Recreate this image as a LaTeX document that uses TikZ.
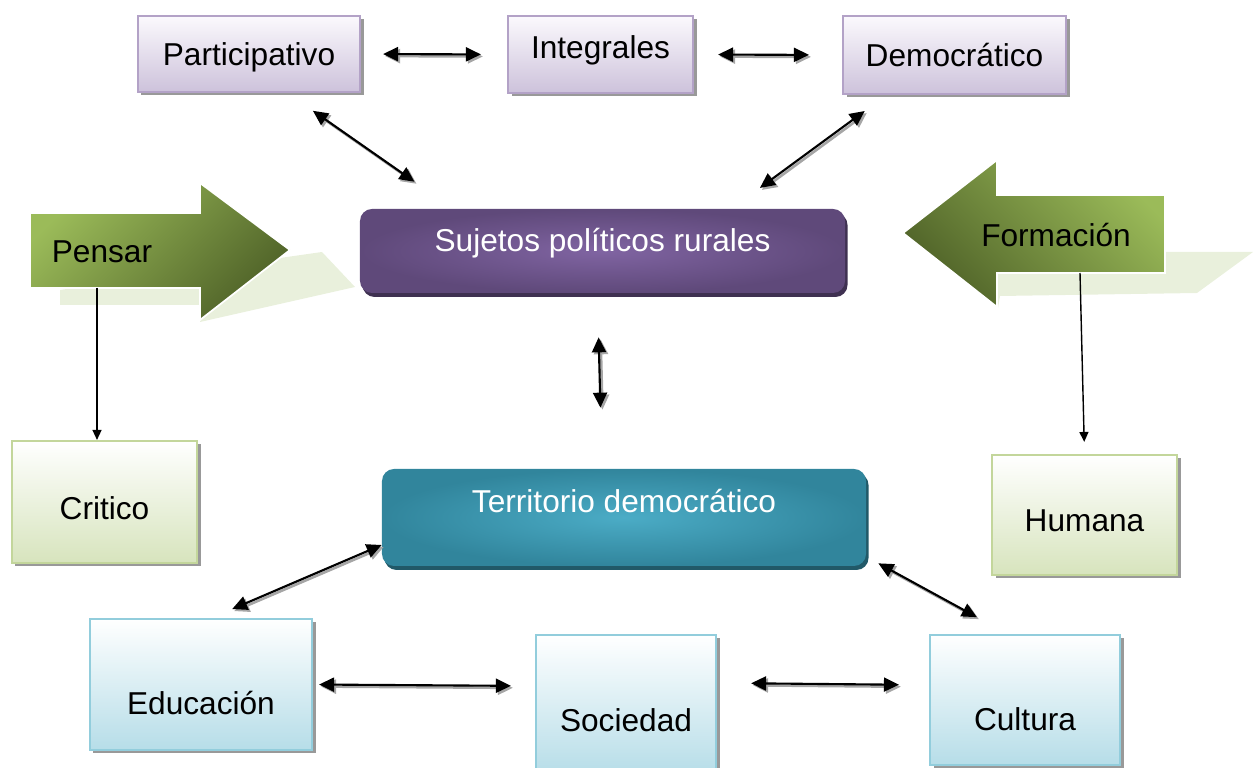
\documentclass[tikz,border=0pt]{standalone}
\usepackage{fontspec}
\setmainfont{Liberation Sans}
\usepackage{tikz}
\usetikzlibrary{arrows.meta,positioning,calc,shadows}
\definecolor{lilaline}{HTML}{B3A2C7}
\definecolor{lilatop}{HTML}{FBF9FD}
\definecolor{lilabot}{HTML}{CDC2DB}
\definecolor{verdeline}{HTML}{C3D69B}
\definecolor{verdebot}{HTML}{D7E4BD}
\definecolor{azulline}{HTML}{92CDDC}
\definecolor{azulbot}{HTML}{B6DDE8}
\definecolor{moradoin}{HTML}{8064A2}
\definecolor{moradoout}{HTML}{5F497A}
\definecolor{moradosh}{HTML}{3F3151}
\definecolor{tealin}{HTML}{4BACC6}
\definecolor{tealout}{HTML}{31859C}
\definecolor{tealsh}{HTML}{215968}
\definecolor{hojaclara}{HTML}{9BBB59}
\definecolor{hojaoscura}{HTML}{4F6228}
\definecolor{hojasombra}{HTML}{E9F0DC}

\begin{document}
\begin{tikzpicture}[x=0.2mm,y=-0.2mm,font=\fontsize{18}{21}\selectfont]
      \tikzstyle{caja}=[rectangle,line width=1.2pt,text height=17.5pt,text depth=4pt,
        drop shadow={shadow xshift=0.7mm,shadow yshift=-0.7mm,fill=black!40,opacity=1}]
      \tikzstyle{lila}=[caja,draw=lilaline,top color=lilatop,bottom color=lilabot]
      \tikzstyle{verde}=[caja,draw=verdeline,top color=white,bottom color=verdebot]
      \tikzstyle{azul}=[caja,draw=azulline,top color=white,bottom color=azulbot]
      \tikzstyle{centro}=[rectangle,rounded corners=2.4mm,text=white,text height=17.5pt]
      \tikzstyle{flecha}=[draw=white,line width=1pt,top color=hojaclara,bottom color=hojaoscura]
      \tikzstyle{enlace}=[{Triangle[length=3mm,width=2.8mm]}-{Triangle[length=3mm,width=2.8mm]},line width=1.2pt,
        preaction={draw=black!35,line width=1.5pt,transform canvas={xshift=0.4mm,yshift=-0.4mm}}]
      \tikzstyle{baja}=[-{Triangle[length=2mm,width=1.8mm]},line width=0.8pt]
      \useasboundingbox (0,0) rectangle (1254,768);

      % flechas verdes
      \fill[hojasombra] (60,305) -- (60,290) -- (280,258) -- (322,252) -- (355,287) -- (200,322) -- (200,305) -- cycle;
      \fill[hojasombra] (998,308) -- (1000,296) -- (1197,293) -- (1253,252) -- (1165,252) -- (1165,273) -- (998,273) -- cycle;
      \draw[flecha,shading angle=45] (30,213) -- (200,213) -- (200,183) -- (290,250) -- (200,320) -- (200,288) -- (30,288) -- cycle;
      \draw[flecha,shading angle=-45] (1165,195) -- (997,195) -- (997,160) -- (903,233) -- (997,307) -- (997,273) -- (1165,273) -- cycle;
      \node (pensar) at (102,252) {Pensar};
      \node (formacion) at (1056,235) {Formación};
      \coordinate (pensarbase) at (97,288);
      \coordinate (formbase) at (1080,273);

      % cajas
      \node[lila,minimum width=44.4mm,minimum height=15.2mm] (part) at (249,54) {Participativo};
      \node[lila,minimum width=37mm,minimum height=15.4mm,text depth=12.5pt] (integ) at (600.5,54.5) {Integrales};
      \node[lila,minimum width=44.6mm,minimum height=15.6mm] (demo) at (954.5,55) {Democrático};
      \node[centro,inner color=moradoin,outer color=moradoout,minimum width=97mm,minimum height=16.8mm,text depth=16.4pt,
        drop shadow={shadow xshift=0.5mm,shadow yshift=-0.8mm,fill=moradosh,opacity=1}] (sujetos) at (602.5,251) {Sujetos políticos rurales};
      \node[centro,inner color=tealin,outer color=tealout,minimum width=96.8mm,minimum height=19.4mm,text depth=22.7pt,
        drop shadow={shadow xshift=0.5mm,shadow yshift=-0.8mm,fill=tealsh,opacity=1}] (territorio) at (624,517.5) {Territorio democrático};
      \node[verde,minimum width=37mm,minimum height=24.4mm,text height=24.3pt] (critico) at (104.5,502) {Critico};
      \node[verde,minimum width=37mm,minimum height=24mm,text height=23.2pt] (humana) at (1084.5,515) {Humana};
      \node[azul,minimum width=44.4mm,minimum height=26.2mm,text height=38.5pt] (educacion) at (201,684.5) {Educación};
      \node[azul,minimum width=36mm,minimum height=28mm,text height=34.5pt] (sociedad) at (626,705) {Sociedad};
      \node[azul,minimum width=38mm,minimum height=26mm,text height=39.1pt] (cultura) at (1025,700) {Cultura};

      % enlaces
      \draw[enlace,shorten <=4.4mm,shorten >=5.2mm] (part.east) -- (integ.west);
      \draw[enlace,shorten <=4.8mm,shorten >=6.6mm] (integ.east) -- (demo.west);
      \draw[enlace,shorten <=6.2mm,shorten >=9.4mm] ($(part.south)+(38.5,0)$) -- ($(sujetos.north)+(-149.5,0)$);
      \draw[enlace,shorten <=5.4mm,shorten >=7mm] ($(demo.south)+(-68,0)$) -- ($(sujetos.north)+(129.2,0)$);
      \draw[enlace,shorten <=8.8mm,shorten >=12.2mm] ($(sujetos.south)+(-5,0)$) -- ($(territorio.north)+(-22,0)$);
      \draw[enlace,shorten >=4.5mm] ($(territorio.west)+(0,27.5)$) -- ($(educacion.north)+(10.5,0)$);
      \draw[enlace,shorten >=7mm] ($(territorio.south east)+(12,-3)$) -- ($(cultura.north)+(-17.4,0)$);
      \draw[enlace,shorten <=1.2mm,shorten >=4.8mm] (educacion.east) -- ($(sociedad.west)+(0,-19)$);
      \draw[enlace,shorten <=6.8mm,shorten >=6mm] ($(sociedad.east)+(0,-22)$) -- ($(cultura.west)+(0,-15)$);
      \draw[baja] (pensarbase) -- (pensarbase |- critico.north);
      \draw[baja,shorten >=2.4mm] (formbase) -- (humana.north);
    \end{tikzpicture}
\end{document}
